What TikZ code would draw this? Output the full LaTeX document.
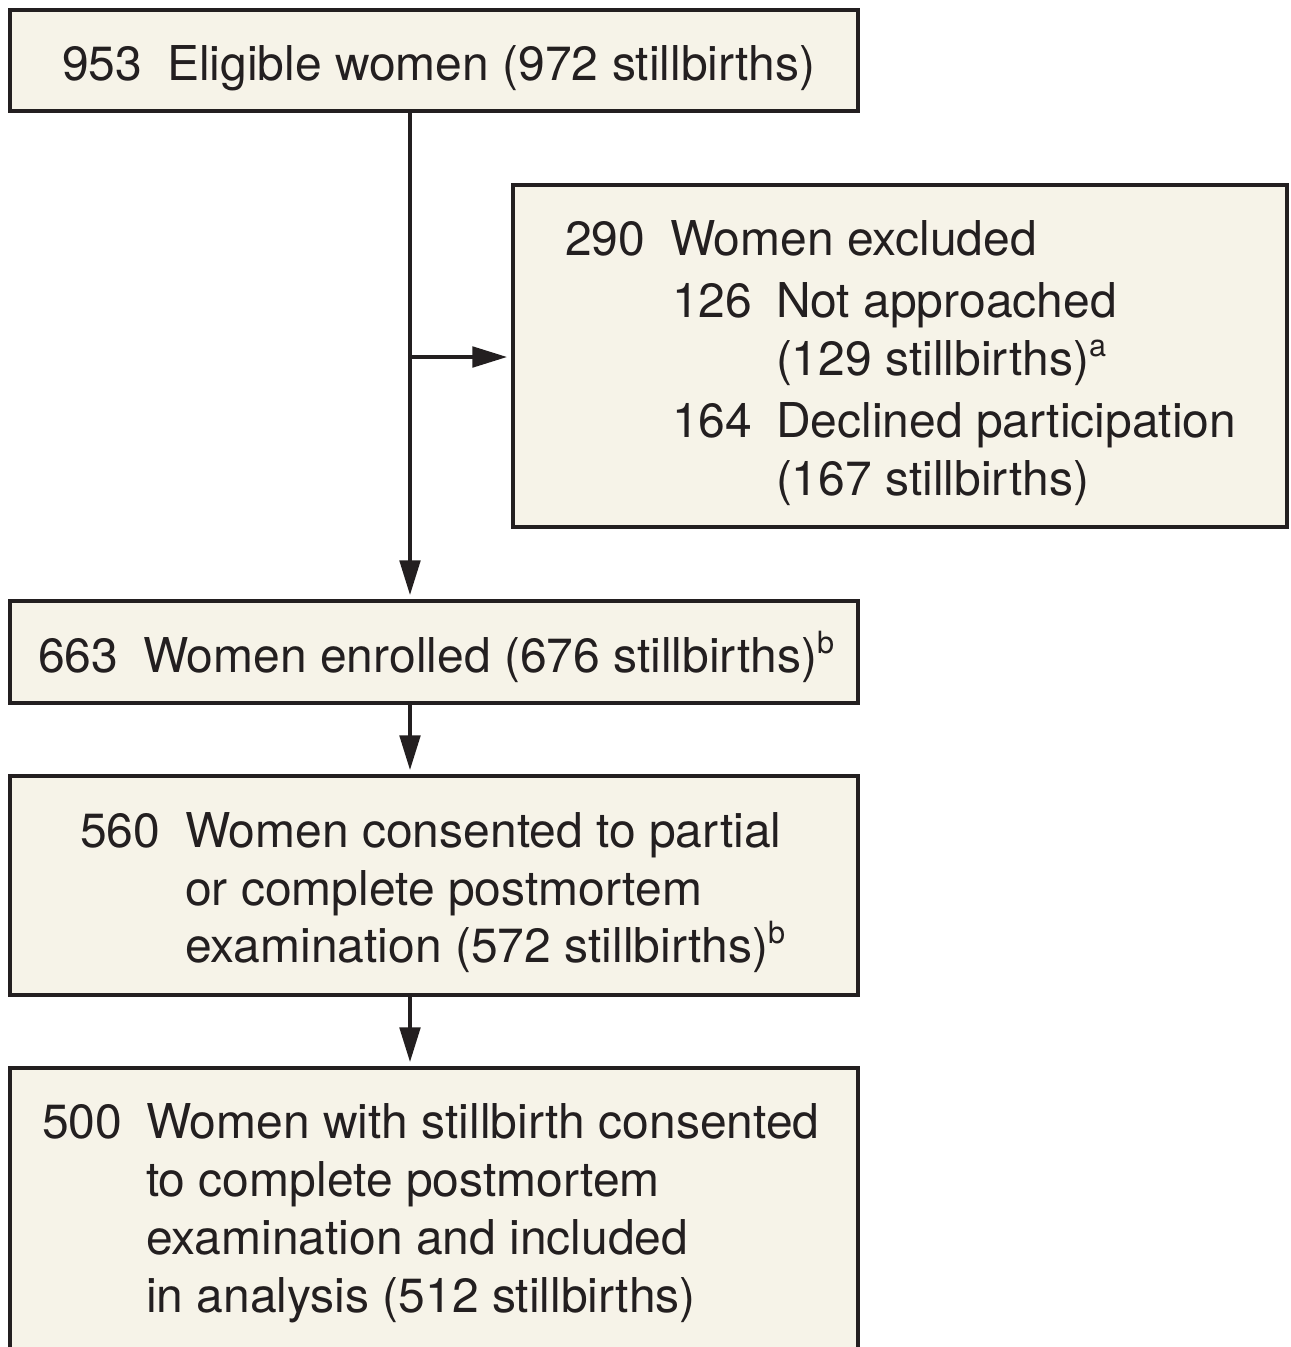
\documentclass[tikz,border=0pt]{standalone}
\usepackage{fontspec}
\setmainfont{TeX Gyre Heros}
\usetikzlibrary{arrows.meta}
\definecolor{boxfill}{HTML}{F6F3E8}
\definecolor{ink}{HTML}{231F20}
\newcommand{\fs}{\fontsize{36}{45}\selectfont}
\newcommand{\supr}[1]{\raisebox{14pt}{\fontsize{23}{23}\selectfont #1}}
\begin{document}
\begin{tikzpicture}[x=0.75pt,y=-0.75pt,
  box/.style={draw=ink, fill=boxfill, line width=2.4pt, inner sep=0pt, outer sep=0pt},
  txt/.style={anchor=base west, inner sep=0pt, outer sep=0pt, font=\fs, text=ink},
  arr/.style={draw=ink, line width=2.4pt, -{Triangle[length=26pt,width=15.5pt]}, shorten >=4.5pt}]
\clip (0,0) rectangle (1290,1347);
\fill[white] (0,0) rectangle (1290,1347);
% boxes
\node[box, minimum width=636pt, minimum height=75.75pt] (b1) at (434,60.5) {};
\node[box, minimum width=580.5pt, minimum height=256.5pt] (b2) at (900,356) {};
\node[box, minimum width=636pt, minimum height=76.5pt] (b3) at (434,652) {};
\node[box, minimum width=636pt, minimum height=164.25pt] (b4) at (434,885.5) {};
\node[box, minimum width=636pt, minimum height=249pt] (b5) at (434,1234) {};
% texts
\node[txt] (t1n) at (62,80) {953};
\node[txt] (t1) at (167,80) {Eligible women (972 stillbirths)};
\node[txt] (t2n) at (565,255) {290};
\node[txt] (t2) at (670,255) {Women excluded};
\node[txt] (t2an) at (672,317) {126};
\node[txt] (t2a) at (776,317) {Not approached};
\node[txt] (t2b) at (776,375) {(129 stillbirths)\supr{a}};
\node[txt] (t2cn) at (672,437) {164};
\node[txt] (t2c) at (776,437) {Declined participation};
\node[txt] (t2d) at (776,495) {(167 stillbirths)};
\node[txt] (t3n) at (38,672) {663};
\node[txt] (t3) at (143,672) {Women enrolled (676 stillbirths)\supr{b}};
\node[txt] (t4n) at (80,847) {560};
\node[txt] (t4a) at (185,847) {Women consented to partial};
\node[txt] (t4b) at (185,905) {or complete postmortem};
\node[txt] (t4c) at (185,962) {examination (572 stillbirths)\supr{b}};
\node[txt] (t5n) at (42,1138) {500};
\node[txt] (t5a) at (146,1138) {Women with stillbirth consented};
\node[txt] (t5b) at (146,1196) {to complete postmortem};
\node[txt] (t5c) at (146,1254) {examination and included};
\node[txt] (t5d) at (146,1312) {in analysis (512 stillbirths)};
% connectors
\coordinate (sp) at (410,0);
\coordinate (br) at (410,357);
\draw[arr] (b1.south -| sp) -- (b3.north -| sp);
\draw[arr] (br) -- (b2.west |- br);
\draw[arr] (b3.south -| sp) -- (b4.north -| sp);
\draw[arr] (b4.south -| sp) -- (b5.north -| sp);
\end{tikzpicture}
\end{document}
